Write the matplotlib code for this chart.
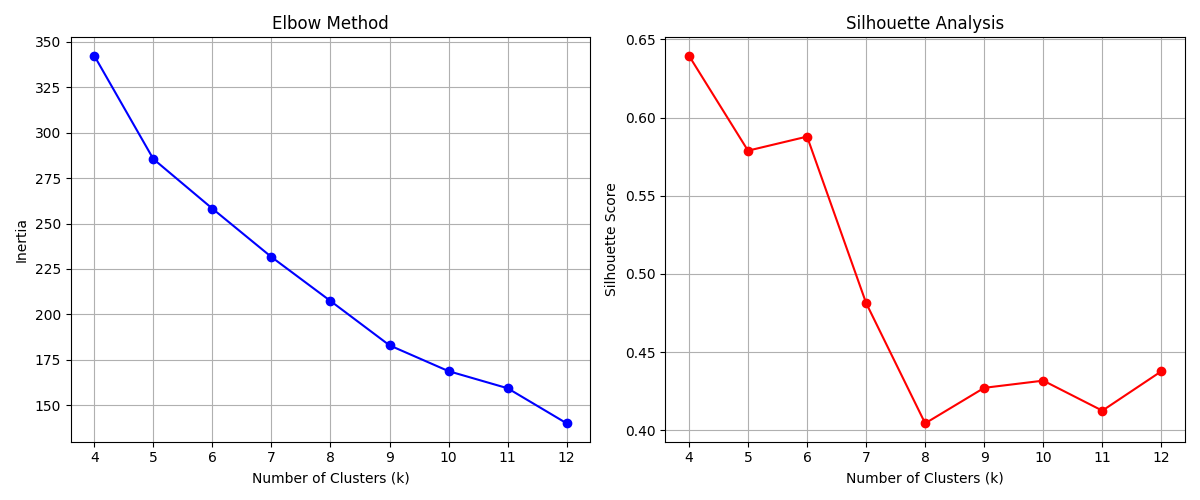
import matplotlib
matplotlib.use('Agg')
import matplotlib.pyplot as plt

# Cluster counts and scores
k_values = [4, 5, 6, 7, 8, 9, 10, 11, 12]
inertia = [342.3, 285.5, 258.2, 231.6, 207.4, 183.0, 168.8, 159.4, 140.1]
silhouette = [0.6395, 0.5788, 0.5878, 0.4814, 0.4045, 0.4272, 0.4318, 0.4126, 0.4378]

fig, (ax1, ax2) = plt.subplots(1, 2, figsize=(12, 5))

# Elbow
ax1.plot(k_values, inertia, 'bo-')
ax1.set_xlabel('Number of Clusters (k)')
ax1.set_ylabel('Inertia')
ax1.set_title('Elbow Method')
ax1.grid(True)

# Silhouette
ax2.plot(k_values, silhouette, 'ro-')
ax2.set_xlabel('Number of Clusters (k)')
ax2.set_ylabel('Silhouette Score')
ax2.set_title('Silhouette Analysis')
ax2.grid(True)

plt.tight_layout()
plt.savefig('out.png', dpi=100)
plt.close()
